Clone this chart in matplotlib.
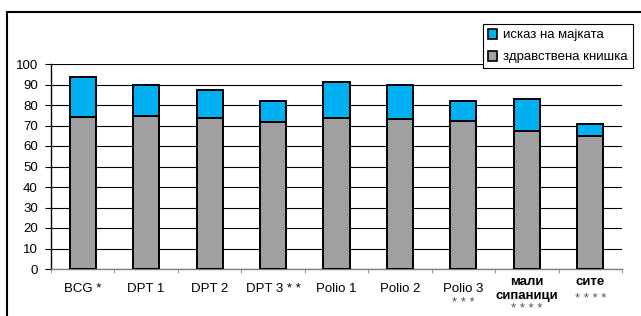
import matplotlib
matplotlib.use('Agg')

import numpy as np
import matplotlib.pyplot as plt
from matplotlib.patches import Patch, Rectangle

plt.rcParams['font.family'] = ['Liberation Sans', 'DejaVu Sans']
plt.rcParams['font.size'] = 9.5

categories = ['BCG *', 'DPT 1', 'DPT 2', 'DPT 3 * *', 'Polio 1', 'Polio 2',
              'Polio 3\n* * *', 'мали\nсипаници\n* * * *', 'сите\n* * * *']
# здравствена книшка (health booklet), bottom segment
booklet = [74.3, 74.8, 73.8, 71.6, 73.8, 73.1, 72.0, 67.2, 64.8]
# total height including mother's statement
total = [93.5, 89.8, 87.3, 82.1, 91.4, 89.8, 81.8, 82.9, 70.8]
mother = [t - b for t, b in zip(total, booklet)]

legend_labels = ['исказ на мајката', 'здравствена книшка']
bold_labels = [7, 8]

blue = '#00B0F0'
gray = '#A0A0A0'

fig = plt.figure(figsize=(6.41, 3.16), dpi=100)
ax = fig.add_axes([51/641, 1 - 269/316, 571/641, 205/316])

x = np.arange(len(categories))
ax.bar(x, booklet, width=0.41, color=gray, edgecolor='black', linewidth=1.4, zorder=3)
ax.bar(x, mother, bottom=booklet, width=0.41, color=blue, edgecolor='black',
       linewidth=1.4, zorder=3)

ax.set_xlim(-0.5, len(categories) - 0.5)
ax.set_ylim(0, 100)
ax.set_yticks(np.arange(0, 101, 10))
ax.yaxis.grid(True, color='black', linewidth=0.8, zorder=0)
ax.set_axisbelow(True)

ax.set_xticks(x)
ax.set_xticklabels([])
ax.set_xticks(np.arange(-0.5, len(categories)), minor=True)
ax.tick_params(axis='x', which='major', length=0)
ax.tick_params(axis='x', which='minor', length=3, color='#808080', direction='out')
ax.tick_params(axis='y', length=4, color='black', pad=5.5)

# category labels, line by line (pixel offsets below the axis)
for i, lab in enumerate(categories):
    lines = lab.split('\n')
    if i in bold_labels:
        start = 13
        step = 13.5 if len(lines) > 2 else 17
    else:
        start, step = 20, 14
    for k, line in enumerate(lines):
        is_star = set(line) <= set('* ')
        ax.annotate(line, xy=(i, 0), xycoords=('data', 'axes fraction'),
                    xytext=(0, -(start + k * step)), textcoords='offset pixels',
                    ha='center', va='center', fontsize=9.5,
                    color='#555555' if (is_star and k > 0) else 'black',
                    fontweight='bold' if (i in bold_labels and not is_star) else 'normal',
                    annotation_clip=False)

for s in ['top', 'right']:
    ax.spines[s].set_visible(False)
ax.spines['left'].set_color('black')
ax.spines['left'].set_linewidth(1.0)
ax.spines['bottom'].set_color('#808080')
ax.spines['bottom'].set_linewidth(1.0)

handles = [Patch(facecolor=blue, edgecolor='black', linewidth=1.2),
           Patch(facecolor=gray, edgecolor='black', linewidth=1.2)]
leg = fig.legend(handles, legend_labels, loc='upper right',
                 bbox_to_anchor=(633/641, 1 - 24/316), fancybox=False,
                 edgecolor='black', framealpha=1, handlelength=0.75,
                 handleheight=0.75, handletextpad=0.45, labelspacing=0.72,
                 borderpad=0.38, borderaxespad=0, fontsize=9.5)
leg.get_frame().set_linewidth(0.8)

fig.patches.append(Rectangle((7/641, -0.2), 1.2, 1.2 - 12/316, transform=fig.transFigure,
                             fill=False, edgecolor='black', linewidth=1.5))

fig.savefig('out.png', dpi=100)
